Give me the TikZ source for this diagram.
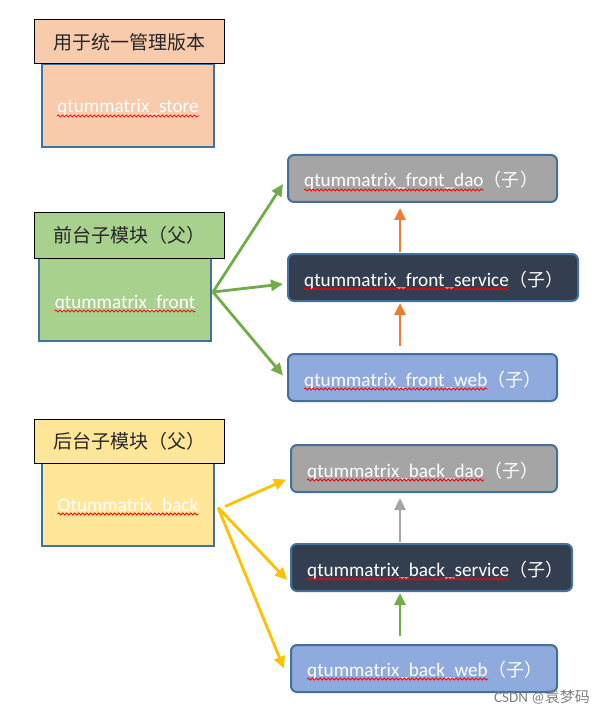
\documentclass[tikz,border=0pt]{standalone}
\usepackage{fontspec}
\setmainfont{Carlito}
\newfontfamily\cjk{Noto Sans CJK SC}
\usetikzlibrary{calc,arrows.meta,decorations.pathmorphing}
\definecolor{storefill}{HTML}{F8CBAD}
\definecolor{frontfill}{HTML}{A9D18E}
\definecolor{backfill}{HTML}{FFE699}
\definecolor{bordblue}{HTML}{41719C}
\definecolor{daofill}{HTML}{A5A5A5}
\definecolor{svcfill}{HTML}{333F50}
\definecolor{webfill}{HTML}{8FAADC}
\definecolor{agreen}{HTML}{70AD47}
\definecolor{aorange}{HTML}{ED7D31}
\definecolor{ayellow}{HTML}{FFC000}
\definecolor{agrey}{HTML}{A5A5A5}
\tikzset{
  labelbox/.style={draw=black,line width=1pt,minimum width=190pt,minimum height=44pt,inner sep=0pt,font=\cjk\fontsize{19}{22}\selectfont,text=black!85},
  bodybox/.style={draw=bordblue,line width=2pt,minimum width=172pt,minimum height=83pt,inner sep=0pt},
  childbox/.style={draw=bordblue,line width=2pt,rounded corners=6pt,minimum height=47pt,inner sep=0pt},
  wtext/.style={text=white,inner sep=0pt,font=\fontsize{19.2}{22}\selectfont},
  ctext/.style={text=white,inner sep=0pt,font=\cjk\fontsize{18}{22}\selectfont},
  squig/.style={draw=red,line width=0.8pt,decorate,decoration={snake,segment length=4pt,amplitude=1pt}},
  conn/.style={line width=2.8pt,-{Triangle[length=12pt,width=11pt]}},
}
\begin{document}
\begin{tikzpicture}[x=1pt,y=-1pt]
\useasboundingbox (0,0) rectangle (591,711);
% store
\node[bodybox,fill=storefill] (storebody) at (128,105.5) {};
\node[labelbox,fill=storefill] (storelabel) at (129,42) {用于统一管理版本};
\node[wtext,anchor=base] (storetext) at (128,113) {qtummatrix\_store};
\draw[squig] ($(storetext.base west)+(0,3)$) -- ($(storetext.base east)+(0,3)$);
% front
\node[bodybox,fill=frontfill] (frontbody) at (125,299) {};
\node[labelbox,fill=frontfill,minimum height=45pt] (frontlabel) at (129,235.5) {前台子模块（父）};
\node[wtext,anchor=base] (fronttext) at (125,308) {qtummatrix\_front};
\draw[squig] ($(fronttext.base west)+(0,3)$) -- ($(fronttext.base east)+(0,3)$);
% back
\node[bodybox,fill=backfill] (backbody) at (128,504.5) {};
\node[labelbox,fill=backfill] (backlabel) at (129,441) {后台子模块（父）};
\node[wtext,anchor=base] (backtext) at (128,511) {Qtummatrix\_back};
\draw[squig] ($(backtext.base west)+(0,3)$) -- ($(backtext.base east)+(0,3)$);
% front children
\node[childbox,fill=daofill,minimum width=269pt] (fdao) at (422.5,178.5) {};
\node[childbox,fill=svcfill,minimum width=290pt] (fsvc) at (433,277.5) {};
\node[childbox,fill=webfill,minimum width=269pt] (fweb) at (422.5,377.5) {};
\node[wtext,anchor=base west] (fdaot) at (304,187) {qtummatrix\_front\_dao};
\node[ctext,anchor=base west] (fdaoc) at (fdaot.base east) {（子）};
\node[wtext,anchor=base west] (fsvct) at (304,286) {qtummatrix\_front\_service};
\node[ctext,anchor=base west] (fsvcc) at (fsvct.base east) {（子）};
\node[wtext,anchor=base west] (fwebt) at (304,386) {qtummatrix\_front\_web};
\node[ctext,anchor=base west] (fwebc) at (fwebt.base east) {（子）};
\draw[squig] ($(fdaot.base west)+(0,3)$) -- ($(fdaot.base east)+(0,3)$);
\draw[squig] ($(fsvct.base west)+(0,3)$) -- ($(fsvct.base east)+(0,3)$);
\draw[squig] ($(fwebt.base west)+(0,3)$) -- ($(fwebt.base east)+(0,3)$);
% back children
\node[childbox,fill=daofill,minimum width=266pt] (bdao) at (424,468.5) {};
\node[childbox,fill=svcfill,minimum width=281pt] (bsvc) at (431.5,567.5) {};
\node[childbox,fill=webfill,minimum width=266pt] (bweb) at (424,668.5) {};
\node[wtext,anchor=base west] (bdaot) at (307,477) {qtummatrix\_back\_dao};
\node[ctext,anchor=base west] (bdaoc) at (bdaot.base east) {（子）};
\node[wtext,anchor=base west] (bsvct) at (307,576) {qtummatrix\_back\_service};
\node[ctext,anchor=base west] (bsvcc) at (bsvct.base east) {（子）};
\node[wtext,anchor=base west] (bwebt) at (307,676) {qtummatrix\_back\_web};
\node[ctext,anchor=base west] (bwebc) at (bwebt.base east) {（子）};
\draw[squig] ($(bdaot.base west)+(0,3)$) -- ($(bdaot.base east)+(0,3)$);
\draw[squig] ($(bsvct.base west)+(0,3)$) -- ($(bsvct.base east)+(0,3)$);
\draw[squig] ($(bwebt.base west)+(0,3)$) -- ($(bwebt.base east)+(0,3)$);
% front arrows
\coordinate (fstart) at ($(frontbody.east)+(1,-7)$);
\draw[conn,agreen] (fstart) -- ($(fdao.west)+(-4,5.5)$);
\draw[conn,agreen] (fstart) -- ($(fsvc.west)+(-4,6.5)$);
\draw[conn,agreen] (fstart) -- ($(fweb.west)+(-4,-2)$);
\draw[conn,aorange] ($(fsvc.north)+(-33,-1)$) -- ($(fdao.south)+(-22.5,5)$);
\draw[conn,aorange] ($(fweb.north)+(-22.5,-7)$) -- ($(fsvc.south)+(-33,1)$);
% back arrows
\coordinate (bstart) at ($(backbody.east)+(3,3)$);
\draw[conn,ayellow] ($(backbody.east)+(10,2)$) -- ($(bdao.west)+(-4,11)$);
\draw[conn,ayellow] (bstart) -- ($(bsvc.west)+(-3,12.5)$);
\draw[conn,ayellow] (bstart) -- ($(bweb.west)+(-6,0)$);
\draw[conn,agrey] ($(bsvc.north)+(-31.5,-1)$) -- ($(bdao.south)+(-24,5)$);
\draw[conn,agreen] ($(bweb.north)+(-24,-8)$) -- ($(bsvc.south)+(-31.5,1)$);
% watermark
\node[anchor=east,inner sep=0pt,text=black!50,font=\fontsize{15}{17}\selectfont] (wm) at (590,697) {CSDN @{\cjk 袁梦码}};
\end{tikzpicture}
\end{document}
